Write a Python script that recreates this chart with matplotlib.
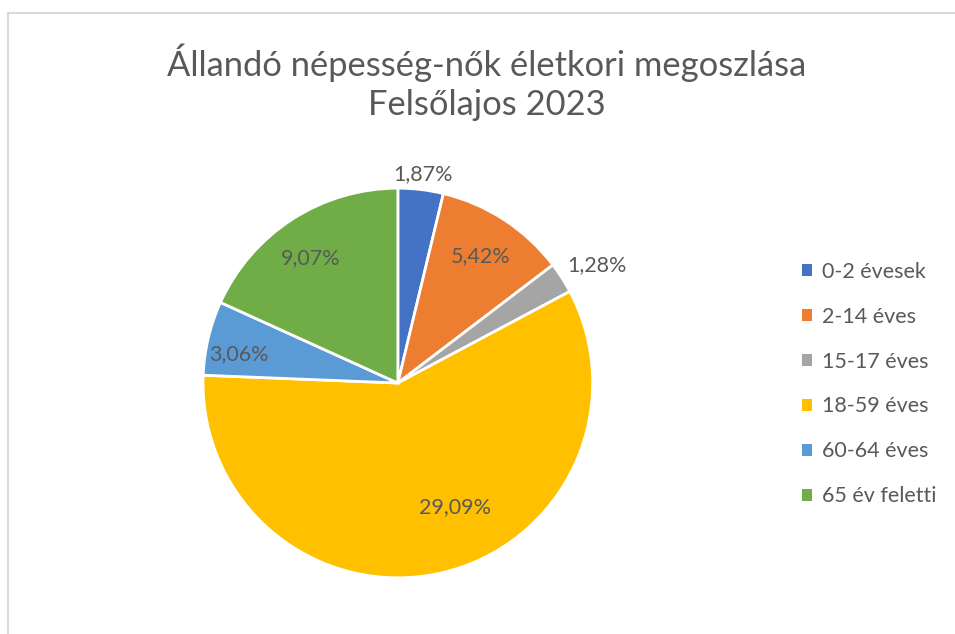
import matplotlib
matplotlib.use("Agg")
import matplotlib.pyplot as plt
from matplotlib.patches import Patch
from matplotlib.lines import Line2D
import numpy as np

plt.rcParams['font.family'] = ['Lato', 'DejaVu Sans']

title = "Állandó népesség-nők életkori megoszlása\nFelsőlajos 2023"
categories = ["0-2 évesek", "2-14 éves", "15-17 éves", "18-59 éves", "60-64 éves", "65 év feletti"]
values = [1.87, 5.42, 1.28, 29.09, 3.06, 9.07]
colors = ["#4472C4", "#ED7D31", "#A5A5A5", "#FFC000", "#5B9BD5", "#70AD47"]
label_dist = [1.08, 0.78, 1.19, 0.70, 0.83, 0.78]
label_angle_shift = [0, 0, -2, 12, 3, 2]
text_color = "#595959"

fig = plt.figure(figsize=(9.55, 6.34), dpi=100)
fig.patch.set_facecolor("white")

# border
fig.add_artist(Line2D([8/955, 8/955], [0, 1 - 13/634], transform=fig.transFigure, color="#D9D9D9", lw=1.5))
fig.add_artist(Line2D([8/955, 1], [1 - 13/634, 1 - 13/634], transform=fig.transFigure, color="#D9D9D9", lw=1.5))

ax = fig.add_axes([0.2126, 0.0884, 0.408, 0.615])
wedges, _ = ax.pie(values, colors=colors, startangle=90, counterclock=False,
                   wedgeprops=dict(edgecolor="white", linewidth=2))
ax.set_aspect("equal")
ax.set_xlim(-1, 1)
ax.set_ylim(-1, 1)

for w, v, d, s in zip(wedges, values, label_dist, label_angle_shift):
    mid = np.deg2rad((w.theta1 + w.theta2) / 2 + s)
    ax.text(d * np.cos(mid), d * np.sin(mid), f"{v:.2f}%".replace(".", ","),
            ha="center", va="center", fontsize=15.5, color=text_color)

fig.text(0.51, 1 - 82/634, title, ha="center", va="center", fontsize=24.8,
         color=text_color, linespacing=1.28)

handles = [Patch(facecolor=c, edgecolor="none") for c in colors]
fig.legend(handles, categories, loc="center left", bbox_to_anchor=(0.82, 1 - 384/634),
           frameon=False, fontsize=15.5, labelcolor=text_color,
           handlelength=0.45, handleheight=0.45, handletextpad=0.45, labelspacing=1.16)

fig.savefig("out.png", dpi=100)
